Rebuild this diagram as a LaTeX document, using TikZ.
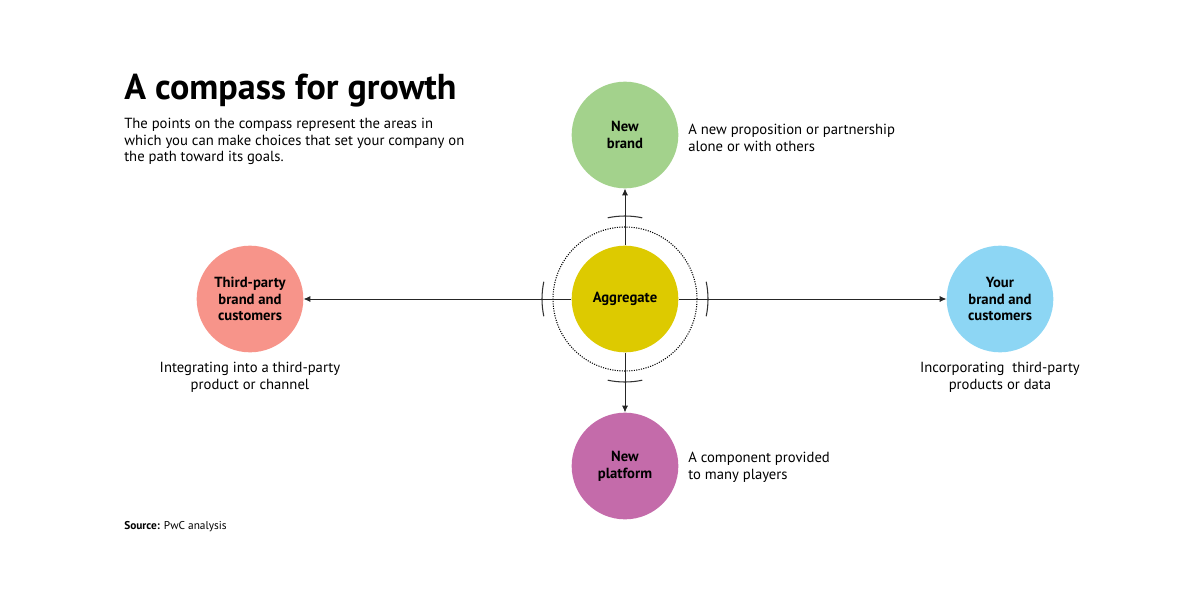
\documentclass[tikz,border=0pt]{standalone}
\usepackage{fontspec}
\setmainfont{PT Sans}
\usetikzlibrary{arrows.meta,positioning,calc}
\definecolor{brand_green}{HTML}{A3D28C}
\definecolor{aggregate_yellow}{HTML}{DDCA00}
\definecolor{platform_purple}{HTML}{C46BAA}
\definecolor{third_party_red}{HTML}{F7948A}
\definecolor{customer_blue}{HTML}{8DD6F4}
\tikzstyle{compass_point} =[circle,minimum size=80pt,inner sep=0pt,align=center,font=\bfseries\fontsize{11}{12.5}\selectfont]
\tikzstyle{point_note} =[font=\fontsize{11}{12.5}\selectfont,inner sep=0pt]
\tikzstyle{compass_arrow} =[-{Latex[length=5pt,width=4.5pt]},semithick,black!85]
\begin{document}
\begin{tikzpicture}[x=0.75pt,y=-0.75pt]
    \useasboundingbox (0,0) rectangle (1200,600);

    % Compass points
    \node[compass_point,fill=aggregate_yellow](aggregate_point) at (625,299){Aggregate};
    \node[compass_point,fill=brand_green](new_brand_point) at (625,135){New\\brand};
    \node[compass_point,fill=platform_purple](new_platform_point) at (625,466){New\\platform};
    \node[compass_point,fill=third_party_red](third_party_point) at (250,299){Third-party\\brand and\\customers};
    \node[compass_point,fill=customer_blue](your_brand_point) at (1000,299){Your\\brand and\\customers};

    % Dotted ring and ticks around the centre
    \draw[densely dotted,thick] (aggregate_point.center) circle[radius=72];
    \foreach \angle in {0,90,180,270}
        \draw[thick,black!80] ($(aggregate_point.center)+(\angle-12:83)$) arc[start angle=\angle-12,end angle=\angle+12,radius=83];

    % Arrows from the centre
    \draw[compass_arrow] (aggregate_point) -- (new_brand_point);
    \draw[compass_arrow] (aggregate_point) -- (new_platform_point);
    \draw[compass_arrow] (aggregate_point) -- (third_party_point);
    \draw[compass_arrow] (aggregate_point) -- (your_brand_point);

    % Notes
    \node[point_note,anchor=west,align=left] (new_brand_note) at (688,138){A new proposition or partnership\\alone or with others};
    \node[point_note,anchor=west,align=left] (new_platform_note) at (688,467){A component provided\\to many players};
    \node[point_note,anchor=north,align=center] (third_party_note) at (250,362){Integrating into a third-party\\product or channel};
    \node[point_note,anchor=north,align=center] (your_brand_note) at (1000,362){Incorporating\ \ third-party\\products or data};

    % Title, intro and source
    \node[anchor=west,inner sep=0pt,font=\bfseries\fontsize{27}{30}\selectfont] (title) at (124,91){A compass for growth};
    \node[point_note,anchor=north west,align=left] (intro) at (124,118){The points on the compass represent the areas in\\which you can make choices that set your company on\\the path toward its goals.};
    \node[anchor=west,inner sep=0pt,font=\fontsize{8.5}{10}\selectfont] (source) at (124,527){\textbf{Source:} PwC analysis};
\end{tikzpicture}
\end{document}
